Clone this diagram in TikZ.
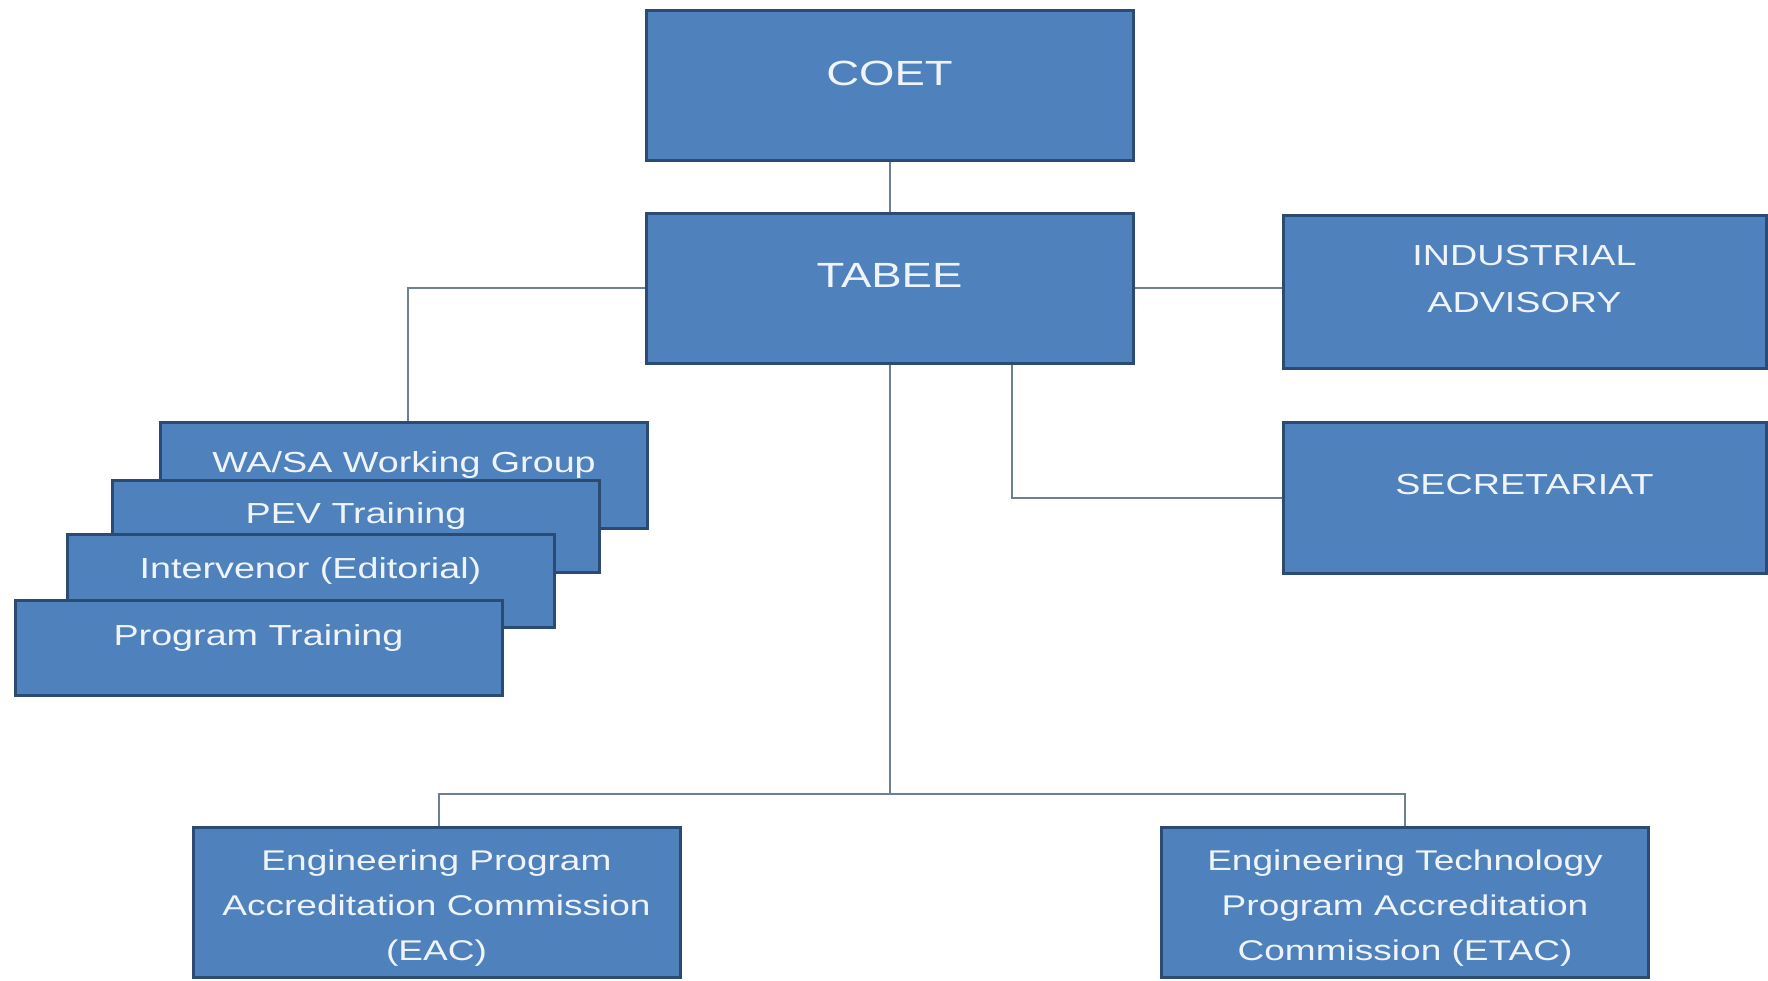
\documentclass[tikz,border=0pt]{standalone}
\usepackage{fontspec}
\newfontfamily\boxfont[FakeStretch=1.3]{Liberation Sans}
\definecolor{boxblue}{HTML}{4F81BD}
\definecolor{boxedge}{HTML}{2C4B74}
\definecolor{linkgray}{HTML}{6E7F90}
\definecolor{boxtext}{HTML}{EEF4FA}
\newcommand{\toplift}{\rule{0pt}{32pt}}
\tikzset{
  unit/.style={rectangle, draw=boxedge, fill=boxblue, line width=3pt, text=boxtext,
    minimum width=487pt, align=center, font=\boxfont\fontsize{29}{47}\selectfont},
  raised/.style={unit, text depth=26pt},
  commission/.style={unit, minimum height=150pt,
    font=\boxfont\fontsize{28.5}{45}\selectfont},
  link/.style={draw=linkgray, line width=2pt}
}
\begin{document}
\begin{tikzpicture}[x=1pt, y=-1pt]
  \useasboundingbox (0,0) rectangle (1768,981);
  \node [raised, minimum height=150pt, font=\boxfont\fontsize{35}{42}\selectfont] (coet) at (889.5,86) {COET};
  \node [raised, minimum height=149pt, font=\boxfont\fontsize{35}{42}\selectfont] (tabee) at (889.5,288.5) {TABEE};
  \node [raised, minimum width=483pt, minimum height=152pt] (indus) at (1524.5,292) {INDUSTRIAL\\ADVISORY};
  \node [raised, minimum width=483pt, minimum height=151pt] (secr) at (1524.5,497.5) {SECRETARIAT};
  \node [raised, minimum height=106pt] (wasa) at (404,475) {WA/SA Working Group};
  \node [raised, minimum height=92pt] (pev) at (356,526) {PEV Training};
  \node [raised, minimum height=93pt] (interv) at (310.5,580.5) {Intervenor (Editorial)};
  \node [raised, minimum height=95pt] (progtr) at (258.5,647.5) {Program Training};
  \node [commission] (eac) at (436.5,902) {\toplift Engineering Program\\Accreditation Commission\\(EAC)};
  \node [commission] (etac) at (1405,902) {\toplift Engineering Technology\\Program Accreditation\\Commission (ETAC)};
  \coordinate (split) at (889.5,794);
  \draw [link] (coet) -- (tabee);
  \draw [link] (tabee.west) -| ([xshift=4pt]wasa.north);
  \draw [link] (tabee.east) -- (tabee.east -| indus.west);
  \draw [link] ([xshift=122.5pt]tabee.south) |- (secr.west);
  \draw [link] (tabee.south) -- (split);
  \draw [link] ([xshift=2.5pt]eac.north) |- (split) -| (etac.north);
\end{tikzpicture}
\end{document}
